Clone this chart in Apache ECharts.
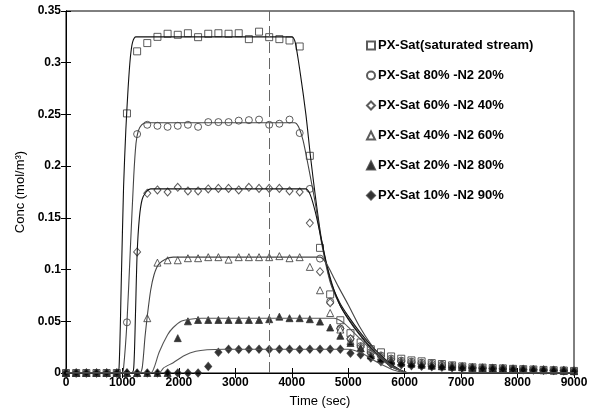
<!DOCTYPE html>
<html lang="en">
<head>
    <meta charset="UTF-8">
    <title>Conc vs Time</title>
    <script src="https://cdn.jsdelivr.net/npm/echarts@6/dist/echarts.min.js"></script>
    <style>
        html, body { margin: 0; padding: 0; background: #fff; }
    </style>
</head>
<body>
    <div id="main" style="width:600px;height:413px;"></div>

    <script>
// sample times (sec)
var times = [0,180,360,540,720,900,1080,1260,1440,1620,1800,1980,2160,2340,2520,2700,2880,3060,3240,3420,
             3600,3780,3960,4140,4320,4500,4680,4860,5040,5220,5400,5580,5760,5940,6120,6300,6480,6660,6840,7020,
             7200,7380,7560,7740,7920,8100,8280,8460,8640,8820,9000];

// measured points
var satPts = [0,0,0,0,0,0,0.251,0.311,0.319,0.325,0.328,0.327,0.3285,0.3247,0.328,0.3285,0.328,0.3285,0.3228,0.330,
              0.3247,0.3228,0.3215,0.3157,0.210,0.121,0.076,0.051,0.0385,0.0295,0.023,0.020,0.016,0.0138,0.0122,0.0113,
              0.0096,0.0087,0.0074,0.0064,0.0055,0.0052,0.0048,0.0045,0.004,0.0037,0.0034,0.003,0.0027,0.0024,0.002];
var p80Pts = [0,0,0,0,0,0,0.049,0.231,0.240,0.239,0.238,0.239,0.240,0.238,0.2426,0.2426,0.2426,0.244,0.2445,0.245,
              0.240,0.241,0.245,0.232,0.178,0.1106,0.069,0.043,0.033,0.026,0.020,0.017,0.014,0.012,0.011,0.010,
              0.009,0.008,0.007,0.006,0.0052,0.005,0.0046,0.0043,0.0039,0.0036,0.0033,0.003,0.0027,0.0024,0.002];
var p60Pts = [0,0,0,0,0,0,0,0.117,0.1737,0.177,0.175,0.1795,0.176,0.176,0.178,0.1785,0.1785,0.177,0.1795,0.1785,
              0.1785,0.1785,0.176,0.175,0.145,0.098,0.068,0.043,0.033,0.025,0.019,0.016,0.013,0.011,0.010,0.009,
              0.008,0.0075,0.0065,0.006,0.005,0.0048,0.0045,0.0042,0.0038,0.0035,0.0032,0.0029,0.0026,0.0023,0.002];
var p40Pts = [0,0,0,0,0,0,0,0,0.053,0.1067,0.109,0.109,0.111,0.111,0.112,0.112,0.1096,0.112,0.112,0.112,
              0.112,0.113,0.111,0.112,0.1026,0.080,0.058,0.042,0.031,0.024,0.019,0.016,0.013,0.011,0.010,0.009,
              0.008,0.007,0.0065,0.0058,0.005,0.0047,0.0044,0.0041,0.0037,0.0034,0.0031,0.0028,0.0025,0.0022,0.0019];
var p20Pts = [0,0,0,0,0,0,0,0,0,0,0,0.0337,0.050,0.0513,0.0513,0.0513,0.0513,0.0513,0.0513,0.0513,
              0.052,0.0545,0.053,0.053,0.052,0.0497,0.044,0.036,0.029,0.024,0.017,0.014,0.012,0.010,0.009,0.008,
              0.007,0.0065,0.006,0.0055,0.005,0.0046,0.0042,0.004,0.0036,0.0033,0.003,0.0027,0.0024,0.0021,0.0018];
var p10Pts = [0,0,0,0,0,0,0,0,0,0,0,0,0,0,0.0064,0.020,0.023,0.0228,0.023,0.023,
              0.0228,0.023,0.023,0.0228,0.023,0.023,0.023,0.023,0.019,0.0176,0.0144,0.011,0.0087,0.008,0.007,0.0065,
              0.006,0.0055,0.005,0.0048,0.0045,0.0042,0.004,0.0038,0.0034,0.0032,0.003,0.0027,0.0024,0.0021,0.0018];

// model curves [time, conc]
var satFit = [[0,0],[900,0],[940,0.005],[980,0.09],[1020,0.18],[1060,0.235],[1100,0.275],[1140,0.305],[1180,0.32],[1240,0.325],
              [4000,0.325],[4060,0.32],[4150,0.29],[4250,0.25],[4330,0.21],[4420,0.17],[4530,0.128],[4680,0.09],[4850,0.068],
              [5000,0.055],[5200,0.04],[5400,0.027],[5600,0.016],[5800,0.007],[6000,0.001],[6100,0],[9000,0]];
var p80Fit = [[0,0],[990,0],[1020,0.005],[1080,0.049],[1140,0.12],[1200,0.19],[1240,0.222],[1280,0.234],[1340,0.24],[1420,0.242],
              [4050,0.242],[4120,0.238],[4200,0.225],[4300,0.198],[4420,0.163],[4530,0.125],[4680,0.088],[4850,0.066],
              [5000,0.053],[5200,0.038],[5400,0.025],[5600,0.014],[5800,0.006],[6000,0.001],[6100,0],[9000,0]];
var p60Fit = [[0,0],[1160,0],[1200,0.005],[1230,0.055],[1260,0.115],[1300,0.15],[1350,0.168],[1420,0.175],[1500,0.178],
              [4250,0.178],[4330,0.172],[4420,0.155],[4520,0.13],[4620,0.105],[4720,0.085],[4850,0.066],[5000,0.052],
              [5200,0.037],[5400,0.024],[5600,0.013],[5800,0.005],[6000,0.001],[6100,0],[9000,0]];
var p40Fit = [[0,0],[1300,0],[1350,0.005],[1400,0.035],[1440,0.055],[1500,0.08],[1560,0.095],[1640,0.105],[1760,0.11],[1900,0.112],
              [4500,0.112],[4600,0.107],[4700,0.097],[4820,0.084],[5000,0.066],[5200,0.045],[5400,0.028],[5600,0.015],
              [5800,0.006],[6000,0.001],[6100,0],[9000,0]];
var p20Fit = [[0,0],[1500,0],[1560,0.005],[1650,0.02],[1800,0.037],[1900,0.044],[2040,0.05],[2200,0.052],[2400,0.053],
              [4750,0.053],[4850,0.051],[4950,0.047],[5100,0.039],[5250,0.031],[5400,0.023],[5600,0.013],[5800,0.005],
              [6000,0.001],[6100,0],[9000,0]];
var p10Fit = [[0,0],[1650,0],[1730,0.005],[1900,0.01],[2100,0.017],[2300,0.021],[2500,0.0225],[2800,0.023],
              [5000,0.023],[5100,0.022],[5250,0.019],[5400,0.014],[5600,0.008],[5800,0.003],[6000,0.0005],[6100,0],[9000,0]];

var names = ['PX-Sat(saturated stream)','PX-Sat 80% -N2 20%','PX-Sat 60% -N2 40%','PX-Sat 40% -N2 60%','PX-Sat 20% -N2 80%','PX-Sat 10% -N2 90%'];
var switchTime = 3600;

function pts(vals){
    return times.map(function(t, i){ return [t, vals[i]]; });
}

function scatter(name, vals, symbol, filled){
    return {
        name: name,
        type: 'scatter',
        data: pts(vals),
        symbol: symbol,
        symbolSize: symbol === 'diamond' ? [7, 8] : 7,
        z: 3,
        itemStyle: {
            color: filled ? '#000' : '#fff',
            borderColor: '#333',
            borderWidth: 1
        }
    };
}

function fit(name, data, color){
    return {
        name: name,
        type: 'line',
        data: data,
        showSymbol: false,
        smooth: 0.25,
        z: 4,
        lineStyle: { color: color, width: 1.1 },
        silent: true
    };
}

var myChart = echarts.init(document.getElementById('main'));

var tickFont = { color: '#000', fontSize: 12, fontWeight: 'bold', fontFamily: 'Liberation Sans, Arial' };

var series = [
    scatter(names[0], satPts, 'rect', false),
    scatter(names[1], p80Pts, 'circle', false),
    scatter(names[2], p60Pts, 'diamond', false),
    scatter(names[3], p40Pts, 'triangle', false),
    scatter(names[4], p20Pts, 'triangle', true),
    scatter(names[5], p10Pts, 'diamond', true),
    fit('fitSat', satFit, '#111'),
    fit('fit80', p80Fit, '#444'),
    fit('fit60', p60Fit, '#111'),
    fit('fit40', p40Fit, '#444'),
    fit('fit20', p20Fit, '#555'),
    fit('fit10', p10Fit, '#555')
];
series[6].markLine = {
    silent: true,
    symbol: ['none', 'none'],
    label: { show: false },
    lineStyle: { color: '#666', width: 1, type: [11, 5] },
    data: [{ xAxis: switchTime }]
};

myChart.setOption({
    animation: false,
    grid: { left: 66, right: 26, top: 11, bottom: 38, show: true, borderColor: '#000', borderWidth: 1 },
    legend: {
        data: names,
        orient: 'vertical',
        left: 361,
        top: 34,
        itemWidth: 8,
        itemHeight: 8,
        itemGap: 17,
        textStyle: { color: '#000', fontSize: 13, fontWeight: 'bold', fontFamily: 'Liberation Sans, Arial', padding: [0, 0, 0, -2] }
    },
    xAxis: [{
        type: 'value', min: 0, max: 9000, interval: 1000,
        name: 'Time (sec)', nameLocation: 'middle', nameGap: 22,
        nameTextStyle: { color: '#000', fontSize: 13, fontFamily: 'Liberation Sans, Arial' },
        axisLine: { lineStyle: { color: '#000', width: 1 } },
        axisTick: { inside: true, length: 5, lineStyle: { color: '#000' } },
        axisLabel: Object.assign({ margin: 4, formatter: function(v){ return String(v); } }, tickFont),
        splitLine: { show: false }
    }, {
        type: 'value', min: 0, max: 9000, interval: 1000, position: 'top',
        axisLine: { lineStyle: { color: '#000' } },
        axisTick: { inside: true, length: 5, lineStyle: { color: '#000' } },
        axisLabel: { show: false },
        splitLine: { show: false }
    }],
    yAxis: [{
        type: 'value', min: 0, max: 0.35, interval: 0.05,
        name: 'Conc (mol/m³)', nameLocation: 'middle', nameGap: 38,
        nameTextStyle: { color: '#000', fontSize: 13, fontFamily: 'Liberation Sans, Arial' },
        axisLine: { show: true, lineStyle: { color: '#000', width: 1 } },
        axisTick: { show: true, inside: true, length: 5, lineStyle: { color: '#000' } },
        axisLabel: Object.assign({ margin: 5 }, tickFont),
        splitLine: { show: false }
    }, {
        type: 'value', min: 0, max: 0.35, interval: 0.05, position: 'right',
        axisLine: { show: true, lineStyle: { color: '#000' } },
        axisTick: { show: true, inside: true, length: 5, lineStyle: { color: '#000' } },
        axisLabel: { show: false },
        splitLine: { show: false }
    }],
    series: series
});
    </script>
</body>
</html>
